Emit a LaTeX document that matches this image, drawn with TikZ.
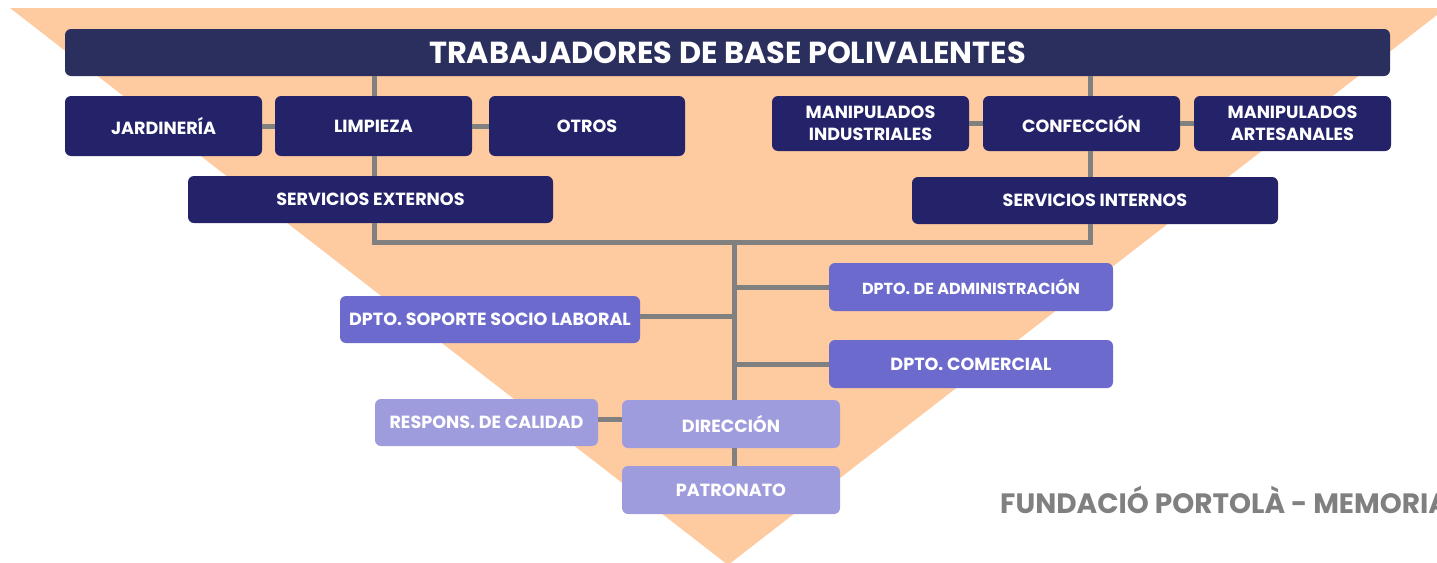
\documentclass[tikz,border=0pt]{standalone}
\usepackage{fontspec}
\setmainfont{Poppins}
\definecolor{peach}{HTML}{FECA9F}
\definecolor{topnavy}{HTML}{2B2F5E}
\definecolor{navy}{HTML}{24236A}
\definecolor{midblue}{HTML}{6C6BCD}
\definecolor{lightblue}{HTML}{9F9CDD}
\definecolor{conngrey}{HTML}{808080}
\begin{document}
\begin{tikzpicture}[x=1pt,y=-1pt,
  box/.style={rounded corners=6pt, text=white, align=center, inner sep=0pt,
    font=\bfseries\fontsize{17.6}{22}\selectfont},
  topbox/.style={box, fill=topnavy, font=\bfseries\fontsize{30.4}{32}\selectfont},
  darkbox/.style={box, fill=navy},
  midbox/.style={box, fill=midblue},
  lightbox/.style={box, fill=lightblue},
  conn/.style={draw=conngrey, line width=5pt},
  footer/.style={text=conngrey, font=\bfseries\fontsize{28}{30}\selectfont, inner sep=0pt, anchor=base west}]
\useasboundingbox (0,0) rectangle (1437,562);
\fill[peach] (10,8) -- (1446,8) -- (728,565) -- cycle;

\node[topbox, minimum width=1325pt, minimum height=47pt] (top) at (727.5,52.5) {TRABAJADORES DE BASE POLIVALENTES};

\node[darkbox, minimum width=197pt, minimum height=60pt] (jard) at (163.5,126) {JARDINERÍA};
\node[darkbox, minimum width=197pt, minimum height=60pt] (limp) at (373.5,126) {LIMPIEZA};
\node[darkbox, minimum width=196pt, minimum height=60pt] (otros) at (587,126) {OTROS};
\node[darkbox, minimum width=197pt, minimum height=55pt] (mind) at (870.5,123.5) {MANIPULADOS\\INDUSTRIALES};
\node[darkbox, minimum width=197pt, minimum height=55pt] (conf) at (1081.5,123.5) {CONFECCIÓN};
\node[darkbox, minimum width=197pt, minimum height=55pt] (mart) at (1292.5,123.5) {MANIPULADOS\\ARTESANALES};
\node[darkbox, minimum width=365pt, minimum height=47pt] (sext) at (370.5,199.5) {SERVICIOS EXTERNOS};
\node[darkbox, minimum width=366pt, minimum height=47pt] (sint) at (1095,200.5) {SERVICIOS INTERNOS};

\node[midbox, minimum width=284pt, minimum height=48pt, font=\bfseries\fontsize{16}{20}\selectfont] (admin) at (971,287) {DPTO. DE ADMINISTRACIÓN};
\node[midbox, minimum width=300pt, minimum height=47pt] (soporte) at (490,319.5) {DPTO. SOPORTE SOCIO LABORAL};
\node[midbox, minimum width=284pt, minimum height=48pt] (comer) at (971,364) {DPTO. COMERCIAL};

\node[lightbox, minimum width=218pt, minimum height=48pt] (dir) at (731,424) {DIRECCIÓN};
\node[lightbox, minimum width=223pt, minimum height=47pt] (resp) at (486.5,422.5) {RESPONS. DE CALIDAD};
\node[lightbox, minimum width=218pt, minimum height=48pt] (patr) at (731,490) {PATRONATO};

\coordinate (jl) at (374,242);
\coordinate (jr) at (1090,242);
\coordinate (jm) at (734,242);

\draw[conn] (top.south -| jl) -- (limp.north -| jl);
\draw[conn] (limp.south -| jl) -- (sext.north -| jl);
\draw[conn] (sext.south -| jl) -- (jl) -- (jr) -- (sint.south -| jr);
\draw[conn] (top.south -| jr) -- (conf.north -| jr);
\draw[conn] (conf.south -| jr) -- (sint.north -| jr);
\draw[conn] (jard.east) -- (limp.west);
\draw[conn] (limp.east) -- (otros.west);
\draw[conn] (mind.east) -- (conf.west);
\draw[conn] (conf.east) -- (mart.west);
\draw[conn] (jm) -- (dir.north -| jm);
\draw[conn] (dir.south -| jm) -- (patr.north -| jm);
\draw[conn] (admin.west) -- (admin.west -| jm);
\draw[conn] (comer.west) -- (comer.west -| jm);
\draw[conn] ([yshift=3.5pt]soporte.east) -- ([yshift=3.5pt]soporte.east -| jm);
\draw[conn] ([yshift=3.5pt]resp.east) -- ([yshift=3.5pt]resp.east -| dir.west);

\node[footer] (foot) at (1000,513) {FUNDACIÓ PORTOLÀ - MEMORIA};
\end{tikzpicture}
\end{document}
